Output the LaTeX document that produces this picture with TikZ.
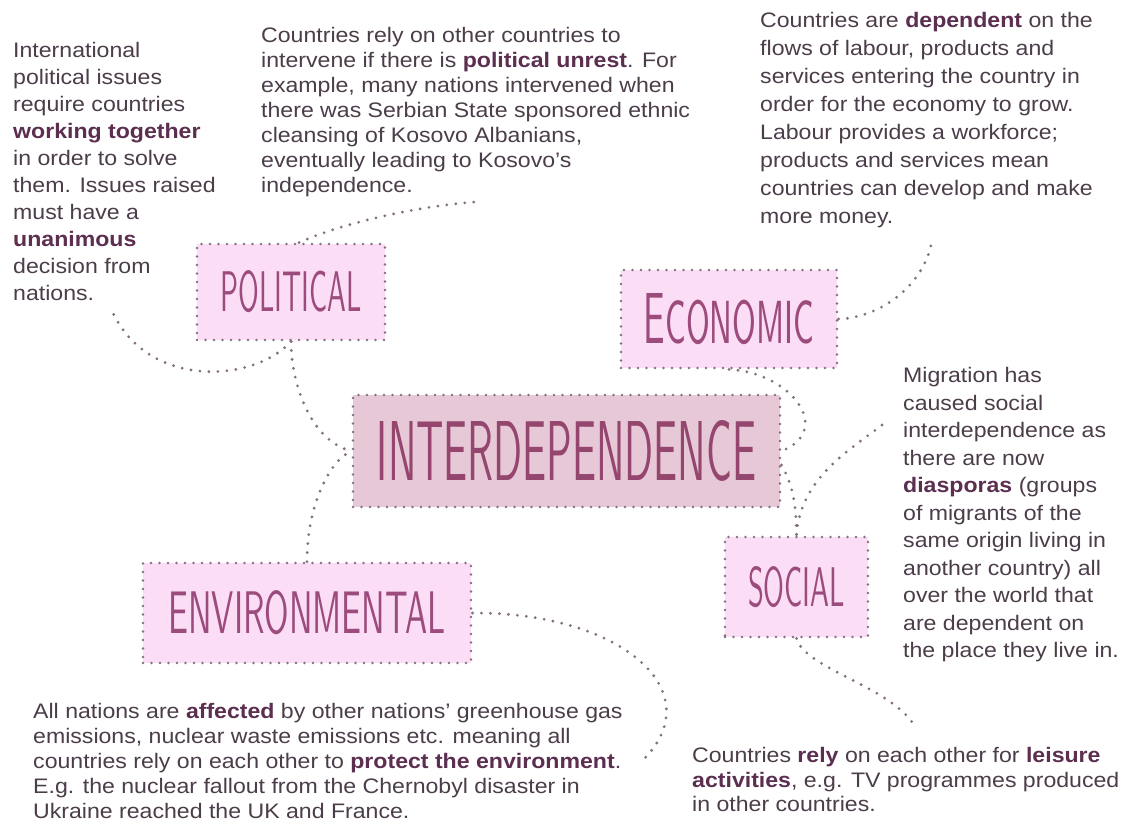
\documentclass[tikz,border=0pt]{standalone}
\usepackage{fontspec}
\setmainfont{Liberation Sans}[FakeStretch=1.1]
\usepackage{graphicx}
\definecolor{boxfill}{HTML}{FBDDF5}
\definecolor{interfill}{HTML}{E7C8D7}
\definecolor{titlecol}{HTML}{9C4C7C}
\definecolor{intercol}{HTML}{94466E}
\definecolor{dotcol}{HTML}{857080}
\definecolor{bodycol}{HTML}{4B3D49}
\definecolor{boldcol}{HTML}{5C2E50}
\newcommand\hl[1]{\textbf{\color{boldcol}#1}}
\newcommand\ttl[3]{\resizebox{#1pt}{#2pt}{\sffamily #3}}
\begin{document}
\begin{tikzpicture}[x=1pt,y=-1pt,
  tbox/.style={draw=dotcol, fill=boxfill, line width=2.9pt, dash pattern=on 0pt off 8.5pt, line cap=round, inner sep=0pt, text=titlecol},
  ibox/.style={tbox, fill=interfill, text=intercol},
  conn/.style={draw=dotcol, line width=3.1pt, dash pattern=on 0pt off 9pt, line cap=round},
  txt/.style={anchor=north west, inner sep=0pt, align=left, text=bodycol}]
\useasboundingbox (0,0) rectangle (1127,829);
\fill[white] (0,0) rectangle (1127,829);

% text blocks
\node[txt, font=\fontsize{21}{27}\selectfont] (ltxt) at (13,42.4) {International\\political issues\\require countries\\\hl{working together}\\in order to solve\\them. Issues raised\\must have a\\\hl{unanimous}\\decision from\\nations.};
\node[txt, font=\fontsize{21}{25}\selectfont] (mtxt) at (261,27.4) {Countries rely on other countries to\\intervene if there is \hl{political unrest}. For\\example, many nations intervened when\\there was Serbian State sponsored ethnic\\cleansing of Kosovo Albanians,\\eventually leading to Kosovo’s\\independence.};
\node[txt, font=\fontsize{21}{28}\selectfont] (etxt) at (760,12.4) {Countries are \hl{dependent} on the\\flows of labour, products and\\services entering the country in\\order for the economy to grow.\\Labour provides a workforce;\\products and services mean\\countries can develop and make\\more money.};
\node[txt, font=\fontsize{21}{27.5}\selectfont] (stxt) at (903,367.4) {Migration has\\caused social\\interdependence as\\there are now\\\hl{diasporas} (groups\\of migrants of the\\same origin living in\\another country) all\\over the world that\\are dependent on\\the place they live in.};
\node[txt, font=\fontsize{21}{25}\selectfont] (vtxt) at (33,703.4) {All nations are \hl{affected} by other nations’ greenhouse gas\\emissions, nuclear waste emissions etc. meaning all\\countries rely on each other to \hl{protect the environment}.\\E.g. the nuclear fallout from the Chernobyl disaster in\\Ukraine reached the UK and France.};
\node[txt, font=\fontsize{21}{24.5}\selectfont] (btxt) at (692,747.4) {Countries \hl{rely} on each other for \hl{leisure}\\\hl{activities}, e.g. TV programmes produced\\in other countries.};

% boxes
\node[tbox, minimum width=188pt, minimum height=96pt] (pol) at (291,292) {\ttl{141}{41}{POLITICAL}};
\node[tbox, minimum width=216pt, minimum height=98pt] (econ) at (729,319) {\ttl{170}{50}{E{\fontsize{8.4}{9}\selectfont CONOMIC}}};
\node[ibox, minimum width=427pt, minimum height=112pt] (inter) at (566.5,451) {\ttl{379}{60}{INTERDEPENDENCE}};
\node[tbox, minimum width=328pt, minimum height=100pt] (env) at (307,613) {\ttl{277}{43}{ENVIRONMENTAL}};
\node[tbox, minimum width=143pt, minimum height=100pt] (soc) at (796.5,587) {\ttl{97}{40}{SOCIAL}};

% connector ends
\coordinate (polEnd) at (475,202);
\coordinate (leftEnd) at (113,313);
\coordinate (econEnd) at (932,240);
\coordinate (socTxt) at (882,425);
\coordinate (brEnd) at (912,722);
\coordinate (envEnd) at (645,758);

% connectors
\draw[conn] ([xshift=8pt]pol.north) .. controls (345,222) and (420,206) .. (polEnd);
\draw[conn] (pol.south) .. controls (255,382) and (150,390) .. (leftEnd);
\draw[conn] (pol.south) .. controls (291,385) and (312,442) .. (inter.west);
\draw[conn] (env.north) .. controls (307,505) and (330,460) .. (inter.west);
\draw[conn] (econ.east) .. controls (880,318) and (925,285) .. (econEnd);
\draw[conn] (econ.south) .. controls (790,372) and (835,430) .. (inter.east);
\draw[conn] ([yshift=-14pt]inter.east) .. controls (796,490) and (796,515) .. (soc.north);
\draw[conn] (socTxt) .. controls (850,450) and (800,478) .. (soc.north);
\draw[conn] (soc.south) .. controls (805,668) and (885,685) .. (brEnd);
\draw[conn] (env.east) .. controls (620,612) and (710,690) .. (envEnd);
\end{tikzpicture}
\end{document}
